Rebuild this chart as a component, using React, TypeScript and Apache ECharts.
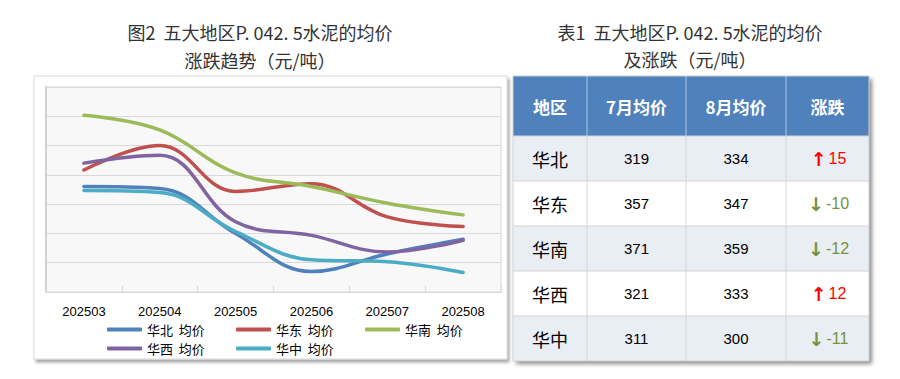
import React, { useEffect, useRef } from "react";
import * as echarts from "echarts";

// ---- chart data ----
const months = ["202503", "202504", "202505", "202506", "202507", "202508"];
const seriesNames = ["华北  均价", "华东  均价", "华南  均价", "华西  均价", "华中  均价"];
const huabei = [388, 386, 340, 301, 319, 334];
const huadong = [405, 430, 383, 391, 357, 347];
const huanan = [461, 446, 402, 388, 371, 359];
const huaxi = [412, 420, 352, 338, 321, 333];
const huazhong = [384, 382, 342, 313, 311, 300];
const lineColors = ["#4F81BD", "#C0504D", "#9BBB59", "#8064A2", "#4BACC6"];

// ---- table data ----
const tableHeaders = ["地区", "7月均价", "8月均价", "涨跌"];
const regions = ["华北", "华东", "华南", "华西", "华中"];
const julyAvg = [319, 357, 371, 321, 311];
const augAvg = [334, 347, 359, 333, 300];

const leftTitle = ["图2  五大地区P. 042. 5水泥的均价", "涨跌趋势（元/吨）"];
const rightTitle = ["表1  五大地区P. 042. 5水泥的均价", "及涨跌（元/吨）"];

const CJK = "'Noto Sans CJK SC', sans-serif";
const LAT = "'Liberation Sans', Arial, sans-serif";

function buildTable(): any[] {
  const colX = [513, 587, 686, 786, 869];
  const top = 76;
  const headH = 60;
  const rowH = 45;
  const totalH = headH + rowH * regions.length;
  const w = colX[colX.length - 1] - colX[0];
  const els: any[] = [];
  els.push({
    type: "rect",
    z: -1,
    shape: { x: colX[0], y: top, width: w, height: totalH },
    style: {
      fill: "#ffffff",
      shadowBlur: 4,
      shadowOffsetX: 3,
      shadowOffsetY: 3,
      shadowColor: "rgba(0,0,0,0.45)",
    },
  });
  els.push({
    type: "rect",
    shape: { x: colX[0], y: top, width: w, height: headH },
    style: { fill: "#4F81BD" },
  });
  tableHeaders.forEach((h, i) => {
    els.push({
      type: "text",
      x: (colX[i] + colX[i + 1]) / 2,
      y: top + headH / 2,
      style: {
        text: h,
        fill: "#ffffff",
        fontSize: 17,
        fontWeight: "bold",
        fontFamily: CJK,
        align: "center",
        verticalAlign: "middle",
      },
    });
  });
  for (let i = 1; i < colX.length - 1; i++) {
    els.push({
      type: "line",
      shape: { x1: colX[i], y1: top, x2: colX[i], y2: top + headH },
      style: { stroke: "rgba(255,255,255,0.55)", lineWidth: 1 },
    });
  }
  regions.forEach((r, ri) => {
    const y0 = top + headH + ri * rowH;
    const cy = y0 + rowH / 2;
    els.push({
      type: "rect",
      shape: { x: colX[0], y: y0, width: w, height: rowH },
      style: { fill: ri % 2 === 0 ? "#E9EDF4" : "#FFFFFF" },
    });
    els.push({
      type: "text",
      x: (colX[0] + colX[1]) / 2,
      y: cy,
      style: { text: r, fill: "#000", fontSize: 18, fontFamily: CJK, align: "center", verticalAlign: "middle" },
    });
    els.push({
      type: "text",
      x: (colX[1] + colX[2]) / 2,
      y: cy,
      style: { text: String(julyAvg[ri]), fill: "#000", fontSize: 15, fontFamily: LAT, align: "center", verticalAlign: "middle" },
    });
    els.push({
      type: "text",
      x: (colX[2] + colX[3]) / 2,
      y: cy,
      style: { text: String(augAvg[ri]), fill: "#000", fontSize: 15, fontFamily: LAT, align: "center", verticalAlign: "middle" },
    });
    const d = augAvg[ri] - julyAvg[ri];
    const up = d > 0;
    const col = up ? "#FF0000" : "#76923C";
    els.push({
      type: "text",
      x: (colX[3] + colX[4]) / 2 + 1,
      y: cy,
      style: {
        text: up ? `{a|↑}{n|${d}}` : `{a|↓}{n|${String(d)}}`,
        align: "center",
        verticalAlign: "middle",
        rich: {
          a: { fill: col, fontSize: 19, fontWeight: "bold", fontFamily: "'DejaVu Sans', sans-serif", padding: [0, 2, 0, 0] },
          n: { fill: col, fontSize: 16, fontFamily: LAT },
        },
      },
    });
    els.push({
      type: "line",
      shape: { x1: colX[0], y1: y0, x2: colX[4], y2: y0 },
      style: { stroke: "#D4D4D4", lineWidth: 1 },
    });
  });
  for (let i = 1; i < colX.length - 1; i++) {
    els.push({
      type: "line",
      shape: { x1: colX[i], y1: top + headH, x2: colX[i], y2: top + totalH },
      style: { stroke: "#D4D4D4", lineWidth: 1 },
    });
  }
  els.push({
    type: "rect",
    shape: { x: colX[0], y: top, width: w, height: totalH },
    style: { fill: "none", stroke: "#D0D0D0", lineWidth: 1 },
  });
  return els;
}

export default function App() {
  const ref = useRef<HTMLDivElement>(null);
  useEffect(() => {
    if (!ref.current) return;
    const chart = echarts.init(ref.current, undefined, { renderer: "svg" });
    const allSeries = [huabei, huadong, huanan, huaxi, huazhong];
    const legendPos = [
      [107, 323],
      [236, 323],
      [365, 323],
      [107, 342],
      [236, 342],
    ];
    const option: any = {
      animation: false,
      backgroundColor: "#ffffff",
      grid: {
        left: 46,
        top: 87,
        width: 455,
        height: 205,
        show: true,
        backgroundColor: "#F8F8F8",
        borderColor: "#D9D9D9",
        borderWidth: 1,
      },
      xAxis: {
        type: "category",
        data: months,
        boundaryGap: true,
        axisLine: { lineStyle: { color: "#D9D9D9", width: 1 } },
        axisTick: { show: true, inside: true, length: 6, lineStyle: { color: "#D9D9D9" } },
        axisLabel: { color: "#000", fontSize: 13, fontFamily: LAT, margin: 13 },
      },
      yAxis: {
        type: "value",
        min: 280,
        max: 490,
        interval: 30,
        axisLabel: { show: false },
        axisTick: { show: false },
        axisLine: { show: true, lineStyle: { color: "#D0D0D0", width: 2 } },
        splitLine: { lineStyle: { color: "#D9D9D9", width: 1 } },
      },
      legend: seriesNames.map((n, i) => ({
        data: [n],
        left: legendPos[i][0],
        top: legendPos[i][1],
        padding: 0,
        itemWidth: 35,
        itemHeight: 4,
        itemGap: 5,
        icon: "roundRect",
        selectedMode: false,
        textStyle: { color: "#000", fontSize: 13, fontFamily: CJK },
      })),
      series: seriesNames.map((n, i) => ({
        name: n,
        type: "line",
        data: allSeries[i],
        smooth: 0.4,
        symbol: "none",
        color: lineColors[i],
        lineStyle: { width: 3.5, color: lineColors[i], cap: "round" },
      })),
      graphic: [
        {
          type: "rect",
          z: -10,
          shape: { x: 34, y: 76, width: 473, height: 283 },
          style: {
            fill: "#ffffff",
            stroke: "#D9D9D9",
            lineWidth: 1,
            shadowBlur: 3,
            shadowOffsetX: 2,
            shadowOffsetY: 3,
            shadowColor: "rgba(0,0,0,0.35)",
          },
        },
        ...leftTitle.map((t, i) => ({
          type: "text",
          x: 260,
          y: 32 + i * 28,
          style: { text: t, fill: "#333333", fontSize: 18, fontFamily: CJK, align: "center", verticalAlign: "middle" },
        })),
        ...rightTitle.map((t, i) => ({
          type: "text",
          x: 690,
          y: 32 + i * 27,
          style: { text: t, fill: "#333333", fontSize: 18, fontFamily: CJK, align: "center", verticalAlign: "middle" },
        })),
        ...buildTable(),
      ],
    };
    chart.setOption(option);
    return () => chart.dispose();
  }, []);
  return (
    <div
      ref={ref}
      style={{ position: "fixed", left: 0, top: 0, width: 900, height: 379, background: "#fff" }}
    />
  );
}
